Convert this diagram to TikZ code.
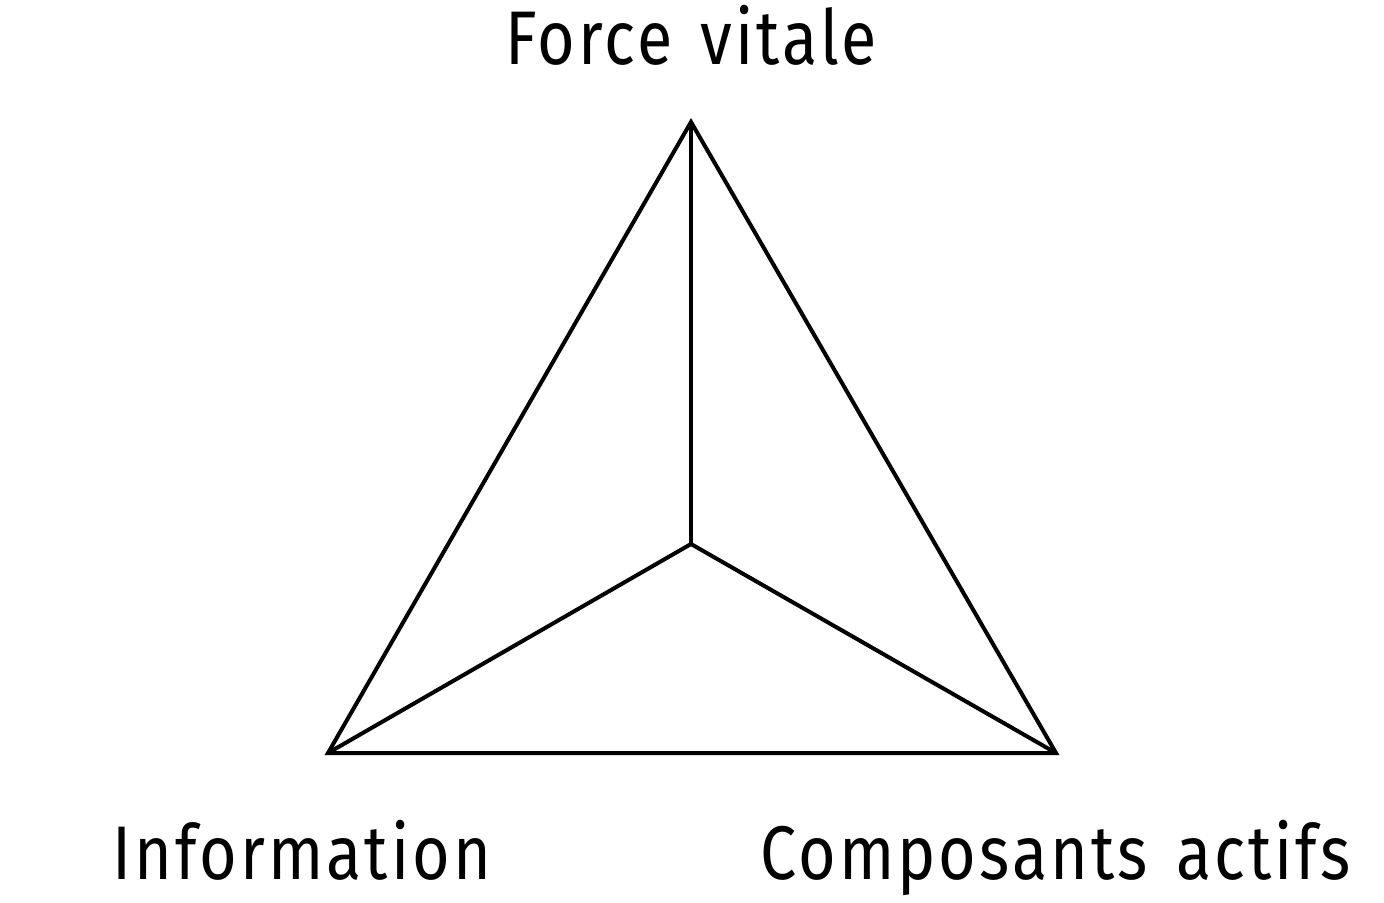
\documentclass[tikz,border=0pt]{standalone}
\usepackage{fontspec}
\setmainfont[FakeStretch=0.85, LetterSpace=4, WordSpace=1.4]{Fira Sans}
\usepackage{tikz}
\usetikzlibrary{
  calc,
  positioning,
}
\tikzset{
  edge/.style={line width=2pt, line join=miter},
  label/.style={font=\fontsize{38}{45}\selectfont, inner sep=0pt},
}
\begin{document}
\begin{tikzpicture}[x=0.5pt, y=-0.5pt]

        \useasboundingbox (0,0) rectangle (1384,903);

        \coordinate (top) at (691,122);
        \coordinate (left) at (328,753);
        \coordinate (right) at (1056,753);
        \coordinate (mid) at (691,544);

        \draw [edge] (top) -- (left) -- (right) -- cycle;

        \draw [edge] (mid) -- (top);
        \draw [edge] (mid) -- (left);
        \draw [edge] (mid) -- (right);

        \node [label, anchor=base] (force) at (691,65) {Force vitale};
        \node [label, anchor=base west] (info) at (112,879) {Information};
        \node [label, anchor=base west] (comp) at (760,879) {Composants actifs};
      \end{tikzpicture}
\end{document}
